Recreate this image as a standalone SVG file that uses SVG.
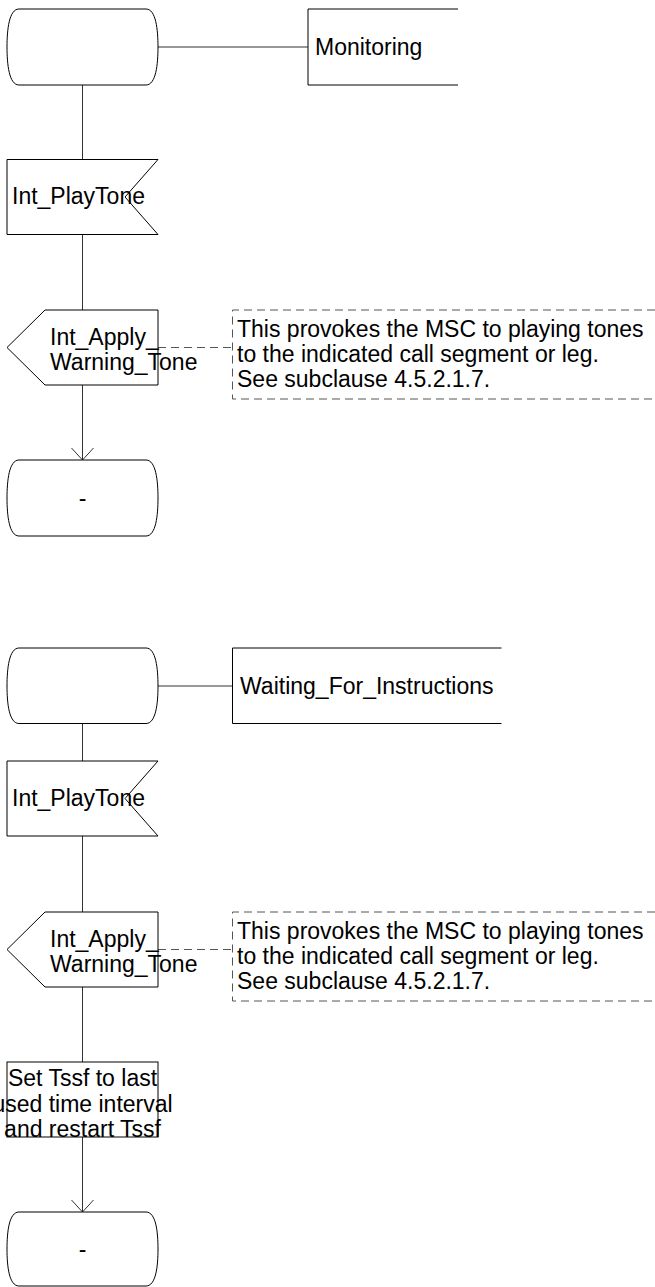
<svg xmlns="http://www.w3.org/2000/svg" width="655" height="1287" viewBox="0 0 655 1287">
<style>
  .shape { fill: #ffffff; stroke: #000000; stroke-width: 1; }
  .open { fill: none; stroke: #000000; stroke-width: 1; }
  .conn { fill: none; stroke: #333333; stroke-width: 1; }
  .dash { fill: none; stroke: #555555; stroke-width: 1; stroke-dasharray: 8,5; }
  text { font-family: "Liberation Sans", Arial, sans-serif; font-size: 23px; fill: #000000; }
  .mid { text-anchor: middle; }
</style>
<defs>
  <marker id="arrow" markerUnits="userSpaceOnUse" markerWidth="26" markerHeight="24" refX="12" refY="11" orient="auto" overflow="visible">
    <path d="M0,0 L12,11 L0,22" fill="none" stroke="#333333" stroke-width="1"/>
  </marker>
</defs>

<g id="connectors">
  <line class="conn" x1="158" y1="47" x2="308" y2="47"/>
  <line class="conn" x1="82.5" y1="85" x2="82.5" y2="159.5"/>
  <line class="conn" x1="82.5" y1="234.5" x2="82.5" y2="310"/>
  <line class="conn" x1="82.5" y1="385" x2="82.5" y2="460" marker-end="url(#arrow)"/>
  <line class="dash" x1="158" y1="347.5" x2="232.5" y2="347.5"/>

  <line class="conn" x1="158" y1="686" x2="232.5" y2="686"/>
  <line class="conn" x1="82.5" y1="723.5" x2="82.5" y2="761"/>
  <line class="conn" x1="82.5" y1="836" x2="82.5" y2="912"/>
  <line class="conn" x1="82.5" y1="987" x2="82.5" y2="1062"/>
  <line class="conn" x1="82.5" y1="1137" x2="82.5" y2="1212" marker-end="url(#arrow)"/>
  <line class="dash" x1="158" y1="949.5" x2="232.5" y2="949.5"/>
</g>

<g id="state1">
  <path class="shape" d="M19,9 H146 C156,9 158,30 158,47 C158,64 156,85 146,85 H19 C9,85 7,64 7,47 C7,30 9,9 19,9 Z"/>
</g>
<g id="monitoring">
  <path class="open" d="M458,9 H308 V85 H458"/>
  <text x="315" y="55">Monitoring</text>
</g>
<g id="input1">
  <polygon class="shape" points="7,159.5 158,159.5 125,197 158,234.5 7,234.5"/>
  <text x="12" y="204">Int_PlayTone</text>
</g>
<g id="output1">
  <polygon class="shape" points="45,310 158,310 158,385 45,385 7,347.5"/>
  <text x="50" y="345">Int_Apply_</text>
  <text x="50" y="370">Warning_Tone</text>
</g>
<g id="comment1">
  <path class="dash" d="M655,310 H232.5 V399 H655"/>
  <text x="237" y="337">This provokes the MSC to playing tones</text>
  <text x="237" y="362">to the indicated call segment or leg.</text>
  <text x="237" y="387">See subclause 4.5.2.1.7.</text>
</g>
<g id="state2">
  <path class="shape" d="M19,460 H146 C156,460 158,481 158,498 C158,515 156,536 146,536 H19 C9,536 7,515 7,498 C7,481 9,460 19,460 Z"/>
  <text class="mid" x="82.5" y="506">-</text>
</g>

<g id="state3">
  <path class="shape" d="M19,648 H146 C156,648 158,669 158,686 C158,703 156,723.5 146,723.5 H19 C9,723.5 7,703 7,686 C7,669 9,648 19,648 Z"/>
</g>
<g id="waiting">
  <path class="open" d="M501.5,648 H232.5 V723.5 H501.5"/>
  <text x="240" y="694">Waiting_For_Instructions</text>
</g>
<g id="input2">
  <polygon class="shape" points="7,761 158,761 125,798.5 158,836 7,836"/>
  <text x="12" y="805.5">Int_PlayTone</text>
</g>
<g id="output2">
  <polygon class="shape" points="45,912 158,912 158,987 45,987 7,949.5"/>
  <text x="50" y="947">Int_Apply_</text>
  <text x="50" y="972">Warning_Tone</text>
</g>
<g id="comment2">
  <path class="dash" d="M655,912 H232.5 V1001 H655"/>
  <text x="237" y="939">This provokes the MSC to playing tones</text>
  <text x="237" y="964">to the indicated call segment or leg.</text>
  <text x="237" y="989">See subclause 4.5.2.1.7.</text>
</g>
<g id="task">
  <rect class="shape" x="7" y="1062" width="151" height="75"/>
  <text class="mid" x="82.5" y="1086">Set Tssf to last</text>
  <text class="mid" x="82.5" y="1112">used time interval</text>
  <text class="mid" x="82.5" y="1137">and restart Tssf</text>
</g>
<g id="state4">
  <path class="shape" d="M19,1212 H146 C156,1212 158,1232 158,1249 C158,1266 156,1286 146,1286 H19 C9,1286 7,1266 7,1249 C7,1232 9,1212 19,1212 Z"/>
  <text class="mid" x="82.5" y="1257">-</text>
</g>
</svg>
